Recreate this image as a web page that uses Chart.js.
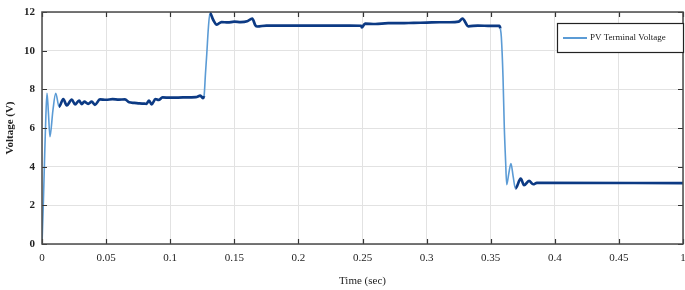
<!DOCTYPE html>
<html>
<head>
<meta charset="utf-8">
<script src="https://cdn.jsdelivr.net/npm/chart.js@4.4.1/dist/chart.umd.min.js"></script>
<style>
  html, body { margin: 0; padding: 0; background: #ffffff; }
  #wrap { width: 685px; height: 290px; position: relative; }
</style>
</head>
<body>
<div id="wrap"><canvas id="c" width="685" height="290"></canvas></div>
<script>
// ---- data ----
const seriesLabel = 'PV Terminal Voltage';
const timeSec = [
  0, 0.001, 0.002, 0.003, 0.0039, 0.005, 0.0062, 0.0085, 0.0107, 0.0133,
  0.0166, 0.0193, 0.0232, 0.0258, 0.0289, 0.031, 0.033, 0.036, 0.0388, 0.0413,
  0.0452, 0.05, 0.055, 0.06, 0.0647, 0.068, 0.072, 0.076, 0.08, 0.0815,
  0.0835, 0.0855, 0.0885, 0.091, 0.094, 0.1, 0.11, 0.12, 0.1235, 0.1255,
  0.1264, 0.1275, 0.1285, 0.1298, 0.131, 0.1335, 0.1363, 0.14, 0.145, 0.15,
  0.155, 0.16, 0.164, 0.1665, 0.168, 0.175, 0.2, 0.24, 0.249, 0.2494,
  0.252, 0.26, 0.27, 0.28, 0.29, 0.30, 0.31, 0.318, 0.325, 0.328,
  0.3325, 0.34, 0.35, 0.3567, 0.3575, 0.3583, 0.3596, 0.3606, 0.3616, 0.3625,
  0.364, 0.3658, 0.3675, 0.3693, 0.3734, 0.376, 0.3799, 0.3832, 0.386, 0.5
];
const voltage = [
  0, 2.0, 4.4, 6.6, 7.8, 6.8, 5.55, 6.9, 7.8, 7.1,
  7.5, 7.17, 7.47, 7.22, 7.42, 7.24, 7.36, 7.25, 7.36, 7.2,
  7.48, 7.46, 7.49, 7.47, 7.48, 7.33, 7.30, 7.27, 7.26, 7.25,
  7.42, 7.22, 7.5, 7.45, 7.58, 7.57, 7.58, 7.6, 7.67, 7.55,
  7.65, 8.8, 9.8, 11.2, 11.95, 11.6, 11.35, 11.48, 11.46, 11.5,
  11.48, 11.52, 11.66, 11.3, 11.25, 11.3, 11.3, 11.3, 11.29, 11.2,
  11.4, 11.38, 11.42, 11.42, 11.44, 11.45, 11.47, 11.47, 11.5, 11.66,
  11.26, 11.3, 11.28, 11.28, 11.15, 10.7, 8.64, 6.05, 4.33, 3.07,
  3.6, 4.16, 3.5, 2.87, 3.38, 3.04, 3.26, 3.09, 3.16, 3.15
];
const xTickValues = [0, 0.05, 0.1, 0.15, 0.2, 0.25, 0.3, 0.35, 0.4, 0.45, 0.5];
const xTickLabels = ['0', '0.05', '0.1', '0.15', '0.2', '0.25', '0.3', '0.35', '0.4', '0.45', '1'];
const yTickLabels = ['0', '2', '4', '6', '8', '10', '12'];
const xTitle = 'Time (sec)';
const yTitle = 'Voltage (V)';

// ---- styling ----
const DARK = '#0c3a84';
const LIGHT = '#5b9bd5';
const SERIF = '"Liberation Serif", "DejaVu Serif", serif';

const points = timeSec.map((t, i) => ({ x: t, y: voltage[i] }));

function steep(ctx) {
  const dx = ctx.p1.parsed.x - ctx.p0.parsed.x;
  const dy = ctx.p1.parsed.y - ctx.p0.parsed.y;
  return dx > 0 && Math.abs(dy / dx) > 250;
}

const framePlugin = {
  id: 'frameAndLegend',
  afterDraw(chart) {
    const { ctx, chartArea: a, scales } = chart;
    const xs = scales.x, ys = scales.y;
    ctx.save();
    // inward ticks
    ctx.strokeStyle = '#333';
    ctx.lineWidth = 1.2;
    const tl = 5;
    xTickValues.forEach(v => {
      const px = Math.round(xs.getPixelForValue(v)) + 0.5;
      ctx.beginPath();
      ctx.moveTo(px, a.bottom); ctx.lineTo(px, a.bottom - tl);
      ctx.moveTo(px, a.top); ctx.lineTo(px, a.top + tl);
      ctx.stroke();
    });
    yTickLabels.forEach(l => {
      const py = Math.round(ys.getPixelForValue(+l)) + 0.5;
      ctx.beginPath();
      ctx.moveTo(a.left, py); ctx.lineTo(a.left + tl, py);
      ctx.moveTo(a.right, py); ctx.lineTo(a.right - tl, py);
      ctx.stroke();
    });
    // frame
    ctx.strokeStyle = '#4a4a4a';
    ctx.lineWidth = 1.5;
    ctx.strokeRect(a.left, a.top, a.right - a.left, a.bottom - a.top);

    // legend box
    const bx = a.right - 126, by = a.top + 11, bw = 127, bh = 30;
    ctx.fillStyle = '#ffffff';
    ctx.fillRect(bx, by, bw, bh);
    ctx.strokeStyle = '#222';
    ctx.lineWidth = 1.2;
    ctx.strokeRect(bx + 0.5, by + 0.5, bw - 1, bh - 1);
    const ly = by + bh / 2;
    ctx.strokeStyle = LIGHT;
    ctx.lineWidth = 2;
    ctx.beginPath();
    ctx.moveTo(bx + 6, ly); ctx.lineTo(bx + 30, ly);
    ctx.stroke();
    ctx.fillStyle = '#222';
    ctx.font = '9px ' + SERIF;
    ctx.textBaseline = 'middle';
    ctx.textAlign = 'left';
    ctx.fillText(chart.data.datasets[0].label, bx + 33, ly);
    ctx.restore();
  }
};

new Chart(document.getElementById('c'), {
  type: 'line',
  data: {
    datasets: [{
      label: seriesLabel,
      data: points,
      borderColor: DARK,
      borderWidth: 2.7,
      pointRadius: 0,
      fill: false,
      cubicInterpolationMode: 'monotone',
      segment: {
        borderColor: ctx => steep(ctx) ? LIGHT : DARK,
        borderWidth: ctx => steep(ctx) ? 1.6 : 2.7
      }
    }]
  },
  options: {
    responsive: false,
    animation: false,
    layout: { padding: { top: 12, right: 2, left: 0, bottom: 0 } },
    plugins: {
      legend: { display: false },
      tooltip: { enabled: false }
    },
    scales: {
      x: {
        type: 'linear',
        min: 0,
        max: 0.5,
        afterFit: s => { s.height = 46; s.paddingLeft = 0; s.paddingRight = 0; },
        afterBuildTicks: s => { s.ticks = xTickValues.map(v => ({ value: v })); },
        grid: { color: '#e2e2e2', lineWidth: 1, drawTicks: false },
        border: { display: false },
        ticks: {
          autoSkip: false,
          maxRotation: 0,
          padding: 8,
          color: '#222',
          font: { family: SERIF, size: 11 },
          callback: (v, i) => xTickLabels[i]
        },
        title: {
          display: true,
          text: xTitle,
          color: '#222',
          font: { family: SERIF, size: 11 },
          padding: { top: 0, bottom: 2 }
        }
      },
      y: {
        type: 'linear',
        min: 0,
        max: 12,
        afterFit: s => { s.width = 42; s.paddingTop = 0; s.paddingBottom = 0; },
        afterBuildTicks: s => { s.ticks = yTickLabels.map(l => ({ value: +l })); },
        grid: { color: '#e2e2e2', lineWidth: 1, drawTicks: false },
        border: { display: false },
        ticks: {
          padding: 7,
          color: '#222',
          font: { family: SERIF, size: 11, weight: 'bold' },
          callback: (v, i) => yTickLabels[i]
        },
        title: {
          display: true,
          text: yTitle,
          color: '#222',
          font: { family: SERIF, size: 11, weight: 'bold' },
          padding: { top: 4, bottom: 0 }
        }
      }
    }
  },
  plugins: [framePlugin]
});
</script>
</body>
</html>
